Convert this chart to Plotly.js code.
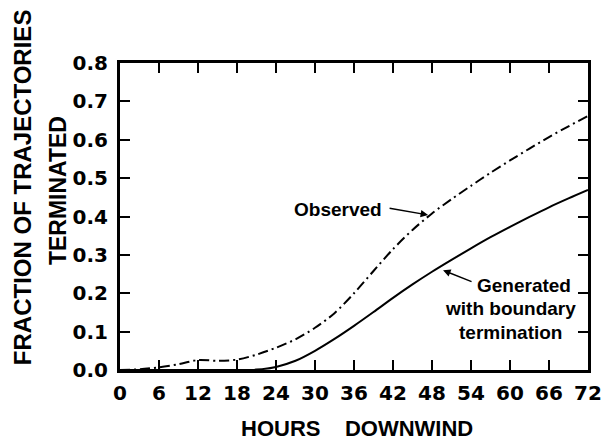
<!DOCTYPE html>
<html>
<head>
<meta charset="utf-8">
<script src="https://cdn.plot.ly/plotly-3.0.1.min.js"></script>
<style>html,body{margin:0;padding:0;background:#fff;}#chart{width:605px;height:443px;}</style>
</head>
<body>
<div id="chart"></div>
<script>
// Data
const hours = [0,3,6,9,12,15,18,21,24,27,30,33,36,39,42,45,48,51,54,57,60,63,66,69,72];
const observed = [0,0.002,0.007,0.015,0.026,0.024,0.027,0.04,0.058,0.08,0.11,0.148,0.2,0.258,0.315,0.365,0.408,0.445,0.48,0.514,0.546,0.577,0.607,0.635,0.662];
const generated = [0,0,0,0,0,0,0,0.001,0.008,0.024,0.05,0.081,0.115,0.151,0.188,0.223,0.256,0.287,0.317,0.346,0.373,0.399,0.424,0.447,0.469];
const xTicks = [0,6,12,18,24,30,36,42,48,54,60,66,72];
const yTicks = [0,0.1,0.2,0.3,0.4,0.5,0.6,0.7,0.8];

const FONT = 'Liberation Sans, Arial, sans-serif';
const TICKFONT = 'DejaVu Sans, sans-serif';

const traces = [
  {x: hours, y: observed, mode: 'lines', name: 'Observed',
   line: {color: '#000', width: 2, dash: '10px,4px,2px,4px', shape: 'spline', smoothing: 0.8}},
  {x: hours, y: generated, mode: 'lines', name: 'Generated',
   line: {color: '#000', width: 2, shape: 'spline', smoothing: 0.8}}
];

const axisCommon = {
  showline: true, linecolor: '#000', linewidth: 3, mirror: 'ticks',
  ticks: 'inside', ticklen: 10, tickwidth: 2, tickcolor: '#000',
  showgrid: false, zeroline: false, fixedrange: true,
  tickfont: {family: TICKFONT, size: 20, color: '#000', weight: 'bold'}
};

const labelFont = {family: FONT, size: 19, color: '#000', weight: 'bold'};

const layout = {
  width: 605, height: 443,
  margin: {l: 120, r: 17, t: 63, b: 73, pad: 0},
  paper_bgcolor: '#fff', plot_bgcolor: '#fff',
  showlegend: false,
  xaxis: Object.assign({}, axisCommon, {range: [0,72], tickvals: xTicks, ticktext: xTicks.map(String), ticklabelstandoff: 3}),
  yaxis: Object.assign({}, axisCommon, {range: [0,0.8], tickvals: yTicks, ticktext: yTicks.map(v => v.toFixed(1)), ticklabelstandoff: 5}),
  annotations: [
    {xref: 'paper', yref: 'paper', x: 0.506, y: -0.192, text: 'HOURS\u00a0\u00a0\u00a0\u00a0DOWNWIND', showarrow: false,
     font: {family: FONT, size: 22, color: '#000', weight: 'bold'}, xanchor: 'center', yanchor: 'middle'},
    {xref: 'paper', yref: 'paper', x: -0.2094, y: 0.5955, text: 'FRACTION OF TRAJECTORIES', showarrow: false, textangle: -90,
     font: {family: FONT, size: 24, color: '#000', weight: 'bold'}, xanchor: 'center', yanchor: 'middle'},
    {xref: 'paper', yref: 'paper', x: -0.1325, y: 0.586, text: 'TERMINATED', showarrow: false, textangle: -90,
     font: {family: FONT, size: 23, color: '#000', weight: 'bold'}, xanchor: 'center', yanchor: 'middle'},
    {xref: 'x', yref: 'y', x: 33.5, y: 0.419, text: 'Observed', showarrow: false,
     font: labelFont, xanchor: 'center', yanchor: 'middle'},
    {xref: 'x', yref: 'y', x: 47.4, y: 0.404, text: '', showarrow: true, ax: -40, ay: -7,
     arrowhead: 2, arrowsize: 1, arrowwidth: 1.5, arrowcolor: '#000'},
    {xref: 'x', yref: 'y', x: 62.15, y: 0.221, text: 'Generated', showarrow: false,
     font: labelFont, xanchor: 'center', yanchor: 'middle'},
    {xref: 'x', yref: 'y', x: 60.0, y: 0.159, text: 'with boundary', showarrow: false,
     font: labelFont, xanchor: 'center', yanchor: 'middle'},
    {xref: 'x', yref: 'y', x: 60.15, y: 0.099, text: 'termination', showarrow: false,
     font: labelFont, xanchor: 'center', yanchor: 'middle'},
    {xref: 'x', yref: 'y', x: 49.7, y: 0.26, text: '', showarrow: true, ax: 30, ay: 12,
     arrowhead: 2, arrowsize: 1, arrowwidth: 1.5, arrowcolor: '#000'}
  ]
};

Plotly.newPlot('chart', traces, layout, {displayModeBar: false, staticPlot: true});
</script>
</body>
</html>
